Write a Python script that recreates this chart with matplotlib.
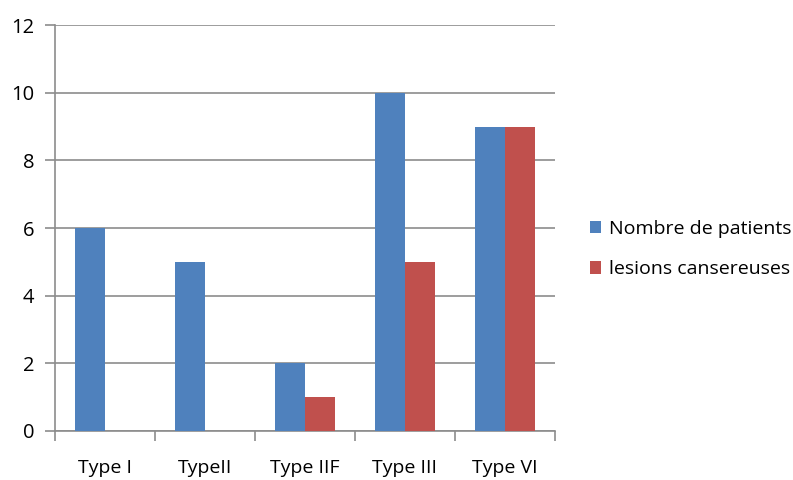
import numpy as np
import matplotlib
matplotlib.use('Agg')
import matplotlib.pyplot as plt

plt.rcParams['font.family'] = ['Open Sans', 'DejaVu Sans']

categories = ['Type I', 'TypeII', 'Type IIF', 'Type III', 'Type VI']
patients = [6, 5, 2, 10, 9]
lesions = [0, 0, 1, 5, 9]
yticks = [0, 2, 4, 6, 8, 10, 12]

bleu = '#4F81BD'
rouge = '#C0504D'
gris = '#8C8C8C'

fig = plt.figure(figsize=(7.93, 4.8), dpi=100)
ax = fig.add_axes([55/793, 49/480, 500/793, 406/480])

x = np.arange(len(categories))
w = 0.3
ax.bar(x - w/2, patients, w, color=bleu, label='Nombre de patients', zorder=3)
ax.bar(x + w/2, lesions, w, color=rouge, label='lesions cansereuses', zorder=3)

ax.set_xlim(-0.5, len(categories) - 0.5)
ax.set_ylim(0, 12)
ax.set_yticks(yticks)
ax.yaxis.grid(True, color=gris, linewidth=1.2, zorder=0)

ax.set_xticks(x)
ax.set_xticklabels(categories, fontsize=14)
ax.tick_params(axis='x', length=0, pad=20)
ax.set_xticks(np.arange(len(categories) + 1) - 0.5, minor=True)
ax.tick_params(axis='x', which='minor', length=7, width=1.2, color=gris, direction='out')
ax.tick_params(axis='y', length=7, width=1.2, color=gris, labelsize=14.5, pad=8)

for s in ['top', 'right']:
    ax.spines[s].set_visible(False)
for s in ['left', 'bottom']:
    ax.spines[s].set_color(gris)
    ax.spines[s].set_linewidth(1.2)

ax.legend(loc='center left', bbox_to_anchor=(1.05, 0.448), frameon=False,
          fontsize=14, handlelength=0.6, handleheight=0.6, handletextpad=0.4,
          labelspacing=1.15, borderpad=0)

fig.savefig('out.png', dpi=100)
